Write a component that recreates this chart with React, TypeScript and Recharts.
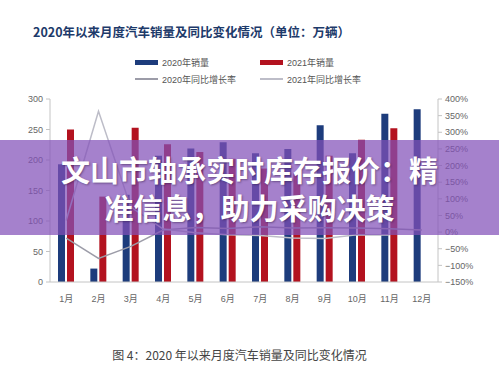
import { ComposedChart, Bar, Line, XAxis, YAxis, Legend } from 'recharts'

const months = ['1月', '2月', '3月', '4月', '5月', '6月', '7月', '8月', '9月', '10月', '11月', '12月']
const sales2020 = [193, 22, 143, 207, 219, 229, 211, 218, 257, 211, 276, 283]
const sales2021 = [250, 140, 253, 226, 213, 202, 186, 179, 207, 233, 252, null]
const growth2020 = [-18, -79, -43, 6, 14, 11, 16, 12, 13, 12, 10, 6]
const growth2021 = [35, 363, 75, 9, -2, -8, -10, -18, -19, -8, -9, null]

const leftTicks = [0, 50, 100, 150, 200, 250, 300]
const rightTicks = [-150, -100, -50, 0, 50, 100, 150, 200, 250, 300, 350, 400]

const BLUE = '#1d3c7c'
const RED = '#b3121f'
const GRAY20 = '#9c9ca8'
const GRAY21 = '#bdbdc8'
const FONT = 'Arial, "Liberation Sans", "Noto Sans CJK SC", sans-serif'

const data = months.map((m, i) => ({
  month: m,
  s2020: sales2020[i],
  s2021: sales2021[i],
  g2020: growth2020[i],
  g2021: growth2021[i],
}))

const legendItems = [
  { label: '2020年销量', color: BLUE, kind: 'bar' },
  { label: '2021年销量', color: RED, kind: 'bar' },
  { label: '2020年同比增长率', color: GRAY20, kind: 'line' },
  { label: '2021年同比增长率', color: GRAY21, kind: 'line' },
]

function LegendBox() {
  return (
    <div
      style={{
        display: 'grid',
        gridTemplateColumns: '125px 125px',
        rowGap: 5,
        fontFamily: FONT,
        fontSize: 9,
        color: '#555',
      }}
    >
      {legendItems.map((it) => (
        <div key={it.label} style={{ display: 'flex', alignItems: 'center', height: 12 }}>
          <span
            style={{
              display: 'inline-block',
              width: 23,
              height: it.kind === 'bar' ? 5 : 1.5,
              background: it.color,
              marginRight: 4,
            }}
          />
          {it.label}
        </div>
      ))}
    </div>
  )
}

export default function App() {
  const tickStyle = { fill: '#666', fontSize: 9, fontFamily: FONT }
  return (
    <div
      style={{
        position: 'absolute',
        left: 0,
        top: 0,
        width: 499,
        height: 377,
        background: '#fff',
        overflow: 'hidden',
      }}
    >
      <div
        style={{
          position: 'absolute',
          left: 33,
          top: 22,
          fontFamily: '"Noto Sans CJK SC", sans-serif',
          fontWeight: 700,
          fontSize: 12.5,
          color: '#1d3a6a',
          whiteSpace: 'nowrap',
        }}
      >
        2020年以来月度汽车销量及同比变化情况（单位：万辆）
      </div>
      <ComposedChart
        width={499}
        height={377}
        data={data}
        margin={{ top: 70, right: 0, left: 0, bottom: 65 }}
        barSize={7}
        barGap={2}
      >
        <XAxis
          dataKey="month"
          height={30}
          tick={tickStyle}
          tickLine={false}
          tickMargin={8}
          axisLine={{ stroke: '#c4c4c4' }}
          interval={0}
        />
        <YAxis
          yAxisId="left"
          width={50}
          domain={[0, 300]}
          ticks={leftTicks}
          tick={tickStyle}
          tickSize={4}
          tickMargin={3}
          axisLine={{ stroke: '#c4c4c4' }}
          tickLine={{ stroke: '#c4c4c4' }}
        />
        <YAxis
          yAxisId="right"
          orientation="right"
          width={61}
          domain={[-150, 400]}
          ticks={rightTicks}
          tick={{ ...tickStyle, textAnchor: 'start' }}
          tickSize={4}
          tickMargin={3}
          axisLine={{ stroke: '#c4c4c4' }}
          tickLine={{ stroke: '#c4c4c4' }}
          tickFormatter={(v: number) => (v < 0 ? `−${-v}%` : `${v}%`)}
        />
        <Legend
          verticalAlign="top"
          content={() => <LegendBox />}
          wrapperStyle={{ top: 56, left: 135, width: 260 }}
        />
        <Bar yAxisId="left" dataKey="s2020" fill={BLUE} isAnimationActive={false} />
        <Bar yAxisId="left" dataKey="s2021" fill={RED} isAnimationActive={false} />
        <Line
          yAxisId="right"
          dataKey="g2020"
          stroke={GRAY20}
          strokeWidth={1.5}
          dot={false}
          isAnimationActive={false}
        />
        <Line
          yAxisId="right"
          dataKey="g2021"
          stroke={GRAY21}
          strokeWidth={1.5}
          dot={false}
          isAnimationActive={false}
        />
      </ComposedChart>
      <div
        style={{
          position: 'absolute',
          left: 0,
          top: 346,
          width: 479,
          textAlign: 'center',
          fontFamily: '"Noto Sans CJK SC", sans-serif',
          fontSize: 12,
          color: '#444',
        }}
      >
        图 4：2020 年以来月度汽车销量及同比变化情况
      </div>
      <div
        style={{
          position: 'absolute',
          left: 0,
          top: 140,
          width: 499,
          height: 95,
          background: 'rgba(130, 80, 185, 0.72)',
          display: 'flex',
          flexDirection: 'column',
          alignItems: 'center',
          justifyContent: 'center',
          fontFamily: '"Noto Sans CJK SC", sans-serif',
          fontWeight: 700,
          fontSize: 29,
          lineHeight: '38px',
          color: '#fff',
          textShadow: '1px 1px 2px rgba(40,20,60,0.45)',
        }}
      >
        <div>文山市轴承实时库存报价：精</div>
        <div>准信息，助力采购决策</div>
      </div>
    </div>
  )
}
